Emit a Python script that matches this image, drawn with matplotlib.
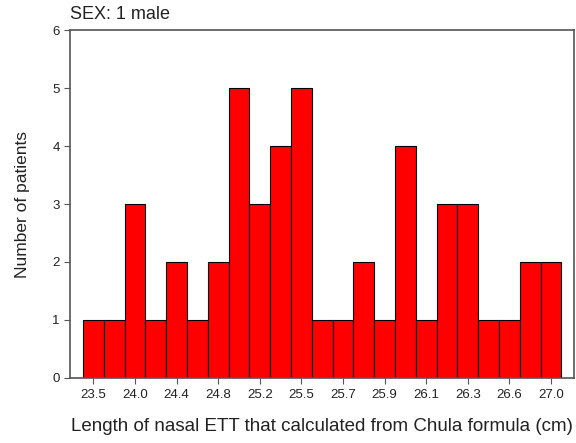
import numpy as np
import matplotlib
matplotlib.use('Agg')
import matplotlib.pyplot as plt

counts = [1, 1, 3, 1, 2, 1, 2, 5, 3, 4, 5, 1, 1, 2, 1, 4, 1, 3, 3, 1, 1, 2, 2]
tick_labels = ['23.5', '24.0', '24.4', '24.8', '25.2', '25.5',
               '25.7', '25.9', '26.1', '26.3', '26.6', '27.0']

plt.rcParams['font.family'] = ['Liberation Sans', 'DejaVu Sans']

fig = plt.figure(figsize=(5.76, 4.43), dpi=100)
ax = fig.add_axes([0.1215, 0.147, 0.875, 0.785])

x = np.arange(len(counts))
ax.bar(x, counts, width=1.0, color='#ff0000', edgecolor='black', linewidth=0.8)

ax.set_xlim(-1.12, len(counts) - 1 + 1.1)
ax.set_ylim(0, 6)
ax.set_xticks(x[::2])
ax.set_xticklabels(tick_labels, fontsize=9.5, color='#222222')
ax.set_yticks(range(7))
ax.tick_params(axis='y', labelsize=9.5, labelcolor='#222222', length=4, color='#555555')
ax.tick_params(axis='x', length=4, color='#555555', pad=4)
for s in ax.spines.values():
    s.set_color('#555555')
    s.set_linewidth(1.2)

ax.set_ylabel('Number of patients', fontsize=12.5, color='#222222', labelpad=16)
ax.set_xlabel('Length of nasal ETT that calculated from Chula formula (cm)',
              fontsize=13.5, color='#222222', labelpad=12)
ax.set_title('SEX: 1 male', loc='left', fontsize=13, color='#222222', pad=8, x=0.0)

plt.savefig("out.png", dpi=100)
